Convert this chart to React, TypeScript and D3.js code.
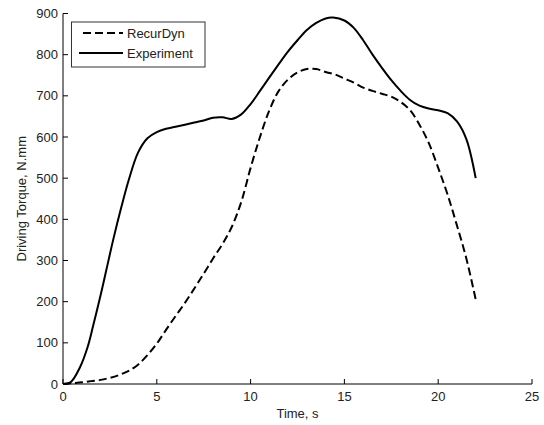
import React from "react";
import * as d3 from "d3";

const timeExp = [0, 0.4, 0.9, 1.3, 1.6, 2.0, 2.3, 2.7, 3.1, 3.5, 4.0, 4.5, 5.0, 5.5, 6.0, 7.0, 7.5, 8.0, 8.5, 9.0, 9.5, 10.0, 10.5, 11.0, 11.5, 12.0, 12.5, 13.0, 13.5, 14.0, 14.4, 15.0, 15.5, 16.0, 16.5, 17.0, 17.5, 18.0, 18.5, 19.0, 19.5, 20.0, 20.5, 21.0, 21.5, 22.0];
const torqueExp = [0, 4, 40, 88, 140, 215, 275, 355, 428, 495, 562, 597, 612, 620, 625, 635, 640, 647, 648, 644, 655, 680, 712, 745, 777, 808, 835, 860, 877, 888, 890, 883, 865, 835, 800, 768, 738, 712, 690, 676, 669, 665, 658, 638, 595, 500];

const timeSim = [0, 0.5, 1, 1.5, 2, 2.5, 3, 3.5, 4, 4.5, 5, 5.5, 6, 6.5, 7, 7.5, 8, 8.5, 9, 9.5, 10, 10.5, 11, 11.5, 12, 12.5, 13, 13.5, 14, 14.5, 15, 15.5, 16, 16.5, 17, 17.5, 18, 18.5, 19, 19.5, 20, 20.5, 21, 21.5, 22];
const torqueSim = [0, 2, 4, 7, 10, 15, 22, 32, 47, 70, 98, 132, 165, 197, 232, 268, 305, 340, 382, 442, 525, 600, 665, 712, 740, 757, 765, 765, 758, 752, 742, 732, 720, 712, 705, 698, 685, 665, 630, 585, 525, 460, 385, 305, 205];

const xTicks = [0, 5, 10, 15, 20, 25];
const yTicks = [0, 100, 200, 300, 400, 500, 600, 700, 800, 900];
const seriesNames = ["RecurDyn", "Experiment"];

export default function App() {
  const W = 544, H = 425;
  const x = d3.scaleLinear().domain([0, 25]).range([63, 532]);
  const y = d3.scaleLinear().domain([0, 900]).range([384, 13.5]);
  const line = d3.line<[number, number]>().x(d => x(d[0])).y(d => y(d[1])).curve(d3.curveCatmullRom.alpha(0.5));
  const expPts = timeExp.map((t, i) => [t, torqueExp[i]] as [number, number]);
  const simPts = timeSim.map((t, i) => [t, torqueSim[i]] as [number, number]);
  const font = "'Liberation Sans', Arial, sans-serif";
  const tc = "#222";
  return (
    <svg width={W} height={H} style={{ position: "absolute", left: 0, top: 0, background: "#fff" }}>
      <rect x={0} y={0} width={W} height={H} fill="#fff" />
      <line x1={x(0)} x2={x(25)} y1={y(0)} y2={y(0)} stroke="#000" strokeWidth={1} />
      <line x1={x(0)} x2={x(0)} y1={y(0)} y2={y(900)} stroke="#000" strokeWidth={1} />
      {xTicks.map(t => (
        <g key={"xt" + t}>
          <line x1={x(t)} x2={x(t)} y1={y(0)} y2={y(0) - 5} stroke="#000" />
          <text x={x(t)} y={y(0) + 17} textAnchor="middle" fontFamily={font} fontSize={13} fill={tc}>{t}</text>
        </g>
      ))}
      {yTicks.map(t => (
        <g key={"yt" + t}>
          <line x1={x(0)} x2={x(0) + 5} y1={y(t)} y2={y(t)} stroke="#000" />
          <text x={x(0) - 5} y={y(t) + 4.5} textAnchor="end" fontFamily={font} fontSize={13} fill={tc}>{t}</text>
        </g>
      ))}
      <text x={(x(0) + x(25)) / 2} y={418} textAnchor="middle" fontFamily={font} fontSize={13} fill={tc}>Time, s</text>
      <text transform={`translate(26,${(y(0) + y(900)) / 2}) rotate(-90)`} textAnchor="middle" fontFamily={font} fontSize={13} fill={tc}>Driving Torque, N.mm</text>
      <path d={line(simPts) || ""} fill="none" stroke="#000" strokeWidth={2} strokeDasharray="8,4" />
      <path d={line(expPts) || ""} fill="none" stroke="#000" strokeWidth={2} />
      <rect x={71.5} y={22} width={133.5} height={45} fill="#fff" stroke="#333" strokeWidth={1} />
      <line x1={83} x2={123} y1={33} y2={33} stroke="#000" strokeWidth={2} strokeDasharray="8,4" />
      <line x1={79} x2={123} y1={53} y2={53} stroke="#000" strokeWidth={2} />
      <text x={127} y={38} fontFamily={font} fontSize={13} fill={tc}>{seriesNames[0]}</text>
      <text x={127} y={58} fontFamily={font} fontSize={13} fill={tc}>{seriesNames[1]}</text>
    </svg>
  );
}
